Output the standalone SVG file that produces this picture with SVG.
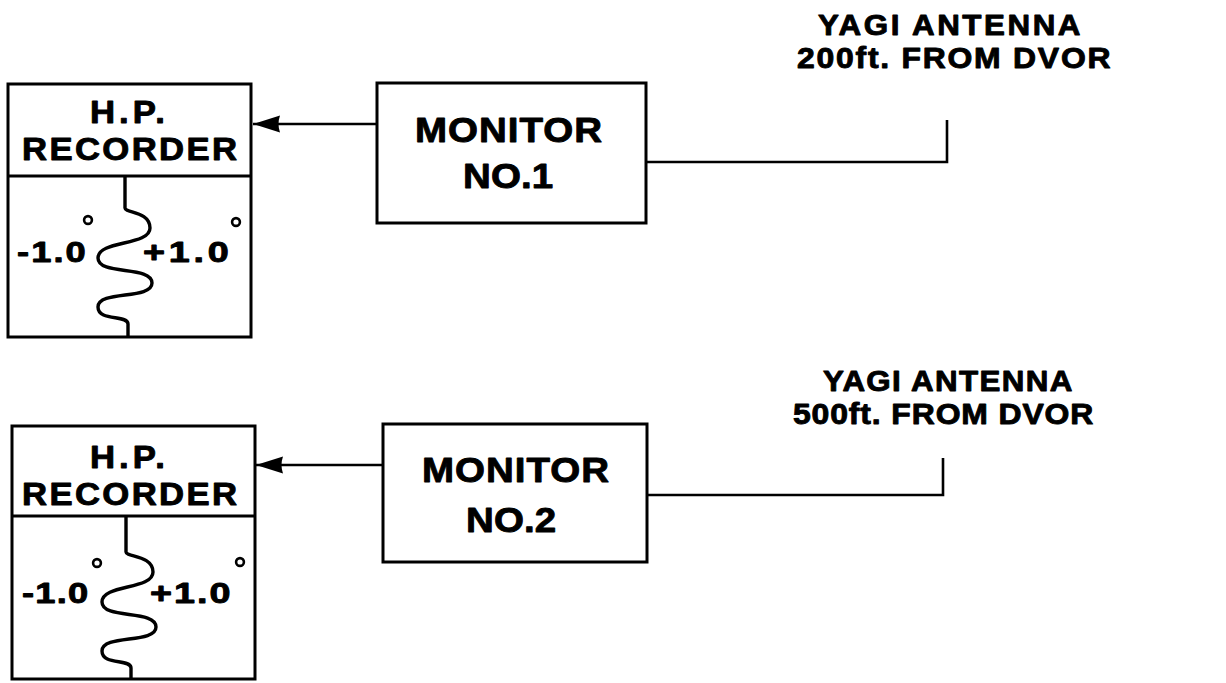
<svg xmlns="http://www.w3.org/2000/svg" width="1226" height="683" viewBox="0 0 1226 683">
<style>
.box{fill:none;stroke:#000;stroke-width:3}
.ln{fill:none;stroke:#000;stroke-width:2.6}
.wave{fill:none;stroke:#000;stroke-width:3.4;stroke-linejoin:round}
.deg{fill:none;stroke:#000;stroke-width:2.6}
text{font-family:"Liberation Sans",Arial,sans-serif;font-weight:bold;fill:#000;stroke:#000;stroke-width:0.9;stroke-linejoin:round}
.t29{font-size:31px}
.t27{font-size:29px}
.t34{font-size:35px}
.t28{font-size:29px}
</style>
<defs>
<marker id="ah" markerUnits="userSpaceOnUse" markerWidth="30" markerHeight="20" refX="27" refY="9" orient="auto">
<path d="M0,0.5 L27,9 L0,17.5 Q3,9 0,0.5 z" fill="#000"/>
</marker>
</defs>
<rect width="1226" height="683" fill="#fff"/>

<g id="recorder1">
<rect class="box" x="8" y="84" width="243" height="253"/>
<line class="box" x1="8" y1="176" x2="251" y2="176"/>
<text class="t29" transform="translate(90,123) scale(1.12,1)" textLength="67" lengthAdjust="spacing">H.P.</text>
<text class="t29" transform="translate(22,160) scale(1.12,1)" textLength="192" lengthAdjust="spacing">RECORDER</text>
<path class="wave" d="M125,176 V208 C125,213 150,211 150,228 C150,246 98,240 98,258 C98,276 152,265 152,283 C152,300 98,290 98,307 C98,322 128,314 128,324 V337"/>
<text class="t27" transform="translate(17,262) scale(1.25,1)" textLength="55" lengthAdjust="spacing">-1.0</text>
<circle class="deg" cx="88" cy="220" r="3.9"/>
<text class="t27" transform="translate(143,262) scale(1.3,1)" textLength="66" lengthAdjust="spacing">+1.0</text>
<circle class="deg" cx="236" cy="222" r="3.9"/>
</g>

<g id="monitor1">
<rect class="box" x="377" y="83" width="269" height="140"/>
<text class="t34" transform="translate(415,142) scale(1.1,1)" textLength="170" lengthAdjust="spacing">MONITOR</text>
<text class="t34" transform="translate(463,188) scale(1.1,1)" textLength="82" lengthAdjust="spacing">NO.1</text>
</g>

<g id="antenna1">
<text class="t28" transform="translate(818,35) scale(1.08,1)" textLength="243" lengthAdjust="spacing">YAGI ANTENNA</text>
<text class="t28" transform="translate(797,68) scale(1.1,1)" textLength="285" lengthAdjust="spacing">200ft. FROM DVOR</text>
</g>

<g id="recorder2">
<rect class="box" x="12" y="426" width="243" height="253"/>
<line class="box" x1="12" y1="516" x2="255" y2="516"/>
<text class="t29" transform="translate(90,468) scale(1.12,1)" textLength="67" lengthAdjust="spacing">H.P.</text>
<text class="t29" transform="translate(22,505) scale(1.12,1)" textLength="192" lengthAdjust="spacing">RECORDER</text>
<path class="wave" d="M126,516 V552 C126,557 153,555 153,572 C153,590 102,584 102,602 C102,620 156,609 156,627 C156,644 102,634 102,651 C102,666 131,658 131,668 V679"/>
<text class="t27" transform="translate(22,603) scale(1.25,1)" textLength="53" lengthAdjust="spacing">-1.0</text>
<circle class="deg" cx="97" cy="563" r="3.9"/>
<text class="t27" transform="translate(150,603) scale(1.3,1)" textLength="62" lengthAdjust="spacing">+1.0</text>
<circle class="deg" cx="240" cy="562" r="3.9"/>
</g>

<g id="monitor2">
<rect class="box" x="383" y="424" width="264" height="138"/>
<text class="t34" transform="translate(422,482) scale(1.1,1)" textLength="170" lengthAdjust="spacing">MONITOR</text>
<text class="t34" transform="translate(466,532) scale(1.1,1)" textLength="82" lengthAdjust="spacing">NO.2</text>
</g>

<g id="antenna2">
<text class="t28" transform="translate(823,391) scale(1.08,1)" textLength="231" lengthAdjust="spacing">YAGI ANTENNA</text>
<text class="t28" transform="translate(793,424) scale(1.1,1)" textLength="273" lengthAdjust="spacing">500ft. FROM DVOR</text>
</g>

<g id="connectors">
<line class="ln" x1="377" y1="124" x2="253" y2="124" marker-end="url(#ah)"/>
<polyline class="ln" points="646,162 947,162 947,120"/>
<line class="ln" x1="383" y1="465" x2="256" y2="465" marker-end="url(#ah)"/>
<polyline class="ln" points="647,495 943,495 943,458"/>
</g>
</svg>
